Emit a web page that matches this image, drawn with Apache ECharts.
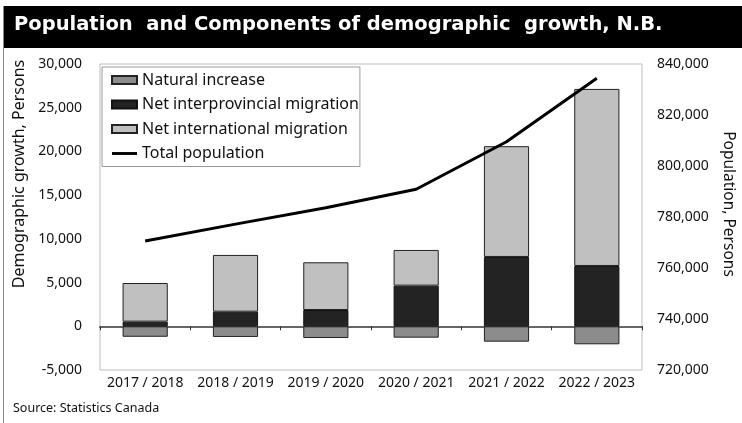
<!DOCTYPE html>
<html>
<head>
<meta charset="utf-8">
<script src="https://cdn.jsdelivr.net/npm/echarts@6/dist/echarts.min.js"></script>
<style>
  html, body { margin: 0; padding: 0; background: #fff; }
  #chart { width: 742px; height: 423px; }
</style>
</head>
<body>
<div id="chart"></div>
<script>
// Fiscal years (July 1 to June 30)
const categories = ['2017 / 2018', '2018 / 2019', '2019 / 2020', '2020 / 2021', '2021 / 2022', '2022 / 2023'];

// Components of demographic growth, persons
const naturalIncrease = [-1200, -1220, -1340, -1300, -1760, -2060];
const interprovincial = [530, 1670, 1860, 4650, 7930, 6900];
const international = [4420, 6490, 5460, 4080, 12670, 20250];

// Total population, persons
const population = [770600, 777200, 783600, 790900, 809500, 834400];

// Axis ticks
const leftTicks = { min: -5000, max: 30000, interval: 5000 };
const rightTicks = { min: 720000, max: 840000, interval: 20000 };

const FONT = 'Noto Sans';
const fmt = v => v.toLocaleString('en-US');

const chart = echarts.init(document.getElementById('chart'), null, { renderer: 'canvas' });

const barBase = {
  type: 'bar',
  stack: 'growth',
  barWidth: '50%',
  xAxisIndex: 0,
  yAxisIndex: 0
};

chart.setOption({
  animation: false,
  backgroundColor: '#ffffff',
  textStyle: { fontFamily: FONT },
  graphic: [
    { type: 'rect', shape: { x: 4, y: 6, width: 738, height: 42 }, style: { fill: '#000' }, z: 10 },
    { type: 'line', shape: { x1: 3.5, y1: 6, x2: 3.5, y2: 423 }, style: { stroke: '#8a8a8a', lineWidth: 1 }, z: 10 },
    {
      type: 'text', left: 14, top: 15, z: 11,
      style: {
        text: 'Population  and Components of demographic  growth, N.B.',
        fill: '#fff', font: 'bold 19.5px "DejaVu Sans"'
      }
    },
    {
      type: 'text', z: 11, x: 19, y: 174, rotation: Math.PI / 2,
      style: {
        text: 'Demographic growth, Persons', fill: '#111', font: '16px "Noto Sans"',
        align: 'center', verticalAlign: 'middle'
      }
    },
    {
      type: 'text', z: 11, x: 728, y: 204, rotation: -Math.PI / 2,
      style: {
        text: 'Population, Persons', fill: '#111', font: '15.5px "Noto Sans"',
        align: 'center', verticalAlign: 'middle'
      }
    },
    {
      type: 'text', z: 11, left: 13, top: 402,
      style: { text: 'Source: Statistics Canada', fill: '#111', font: '12.5px "Noto Sans"' }
    }
  ],
  grid: {
    left: 100, right: 100, top: 64, bottom: 53,
    show: true, borderColor: '#bdbdbd', borderWidth: 1, containLabel: false
  },
  legend: {
    orient: 'vertical',
    left: 102, top: 67,
    padding: [4, 1, 4, 9],
    itemWidth: 25, itemHeight: 8, itemGap: 6.5,
    borderColor: '#9a9a9a', borderWidth: 1,
    backgroundColor: '#fff',
    textStyle: { fontFamily: FONT, fontSize: 16, color: '#111', lineHeight: 18 },
    data: [
      { name: 'Natural increase', icon: 'rect' },
      { name: 'Net interprovincial migration', icon: 'rect' },
      { name: 'Net international migration', icon: 'rect' },
      { name: 'Total population', icon: 'path://M0,0H26V3H0Z' }
    ]
  },
  xAxis: [
    {
      type: 'category', data: categories, position: 'bottom',
      axisLine: { show: false, onZero: false },
      axisTick: { show: false },
      axisLabel: { fontFamily: FONT, fontSize: 14, color: '#111', margin: 6, interval: 0 }
    },
    {
      type: 'category', data: categories, position: 'bottom',
      axisLine: { show: true, onZero: true, onZeroAxisIndex: 0, lineStyle: { color: '#666', width: 2 } },
      axisTick: { show: true, length: 4, interval: 0, lineStyle: { color: '#333', width: 1 } },
      axisLabel: { show: false }
    }
  ],
  yAxis: [
    {
      type: 'value', position: 'left',
      min: leftTicks.min, max: leftTicks.max, interval: leftTicks.interval,
      axisLine: { show: false }, axisTick: { show: false }, splitLine: { show: false },
      axisLabel: { fontFamily: FONT, fontSize: 14, color: '#111', margin: 18, formatter: fmt }
    },
    {
      type: 'value', position: 'right',
      min: rightTicks.min, max: rightTicks.max, interval: rightTicks.interval,
      axisLine: { show: false }, axisTick: { show: false }, splitLine: { show: false },
      axisLabel: { fontFamily: FONT, fontSize: 14, color: '#111', margin: 15, formatter: fmt }
    }
  ],
  series: [
    Object.assign({}, barBase, {
      name: 'Natural increase', data: naturalIncrease,
      itemStyle: { color: '#8c8c8c', borderColor: '#222', borderWidth: 1 }
    }),
    Object.assign({}, barBase, {
      name: 'Net interprovincial migration', data: interprovincial,
      itemStyle: { color: '#232323', borderColor: '#111', borderWidth: 1 }
    }),
    Object.assign({}, barBase, {
      name: 'Net international migration', data: international,
      itemStyle: { color: '#c0c0c0', borderColor: '#222', borderWidth: 1 }
    }),
    {
      name: 'Total population', type: 'line', data: population,
      xAxisIndex: 0, yAxisIndex: 1,
      symbol: 'none', z: 5,
      lineStyle: { color: '#000', width: 3 },
      itemStyle: { color: '#000' }
    }
  ]
});
</script>
</body>
</html>
